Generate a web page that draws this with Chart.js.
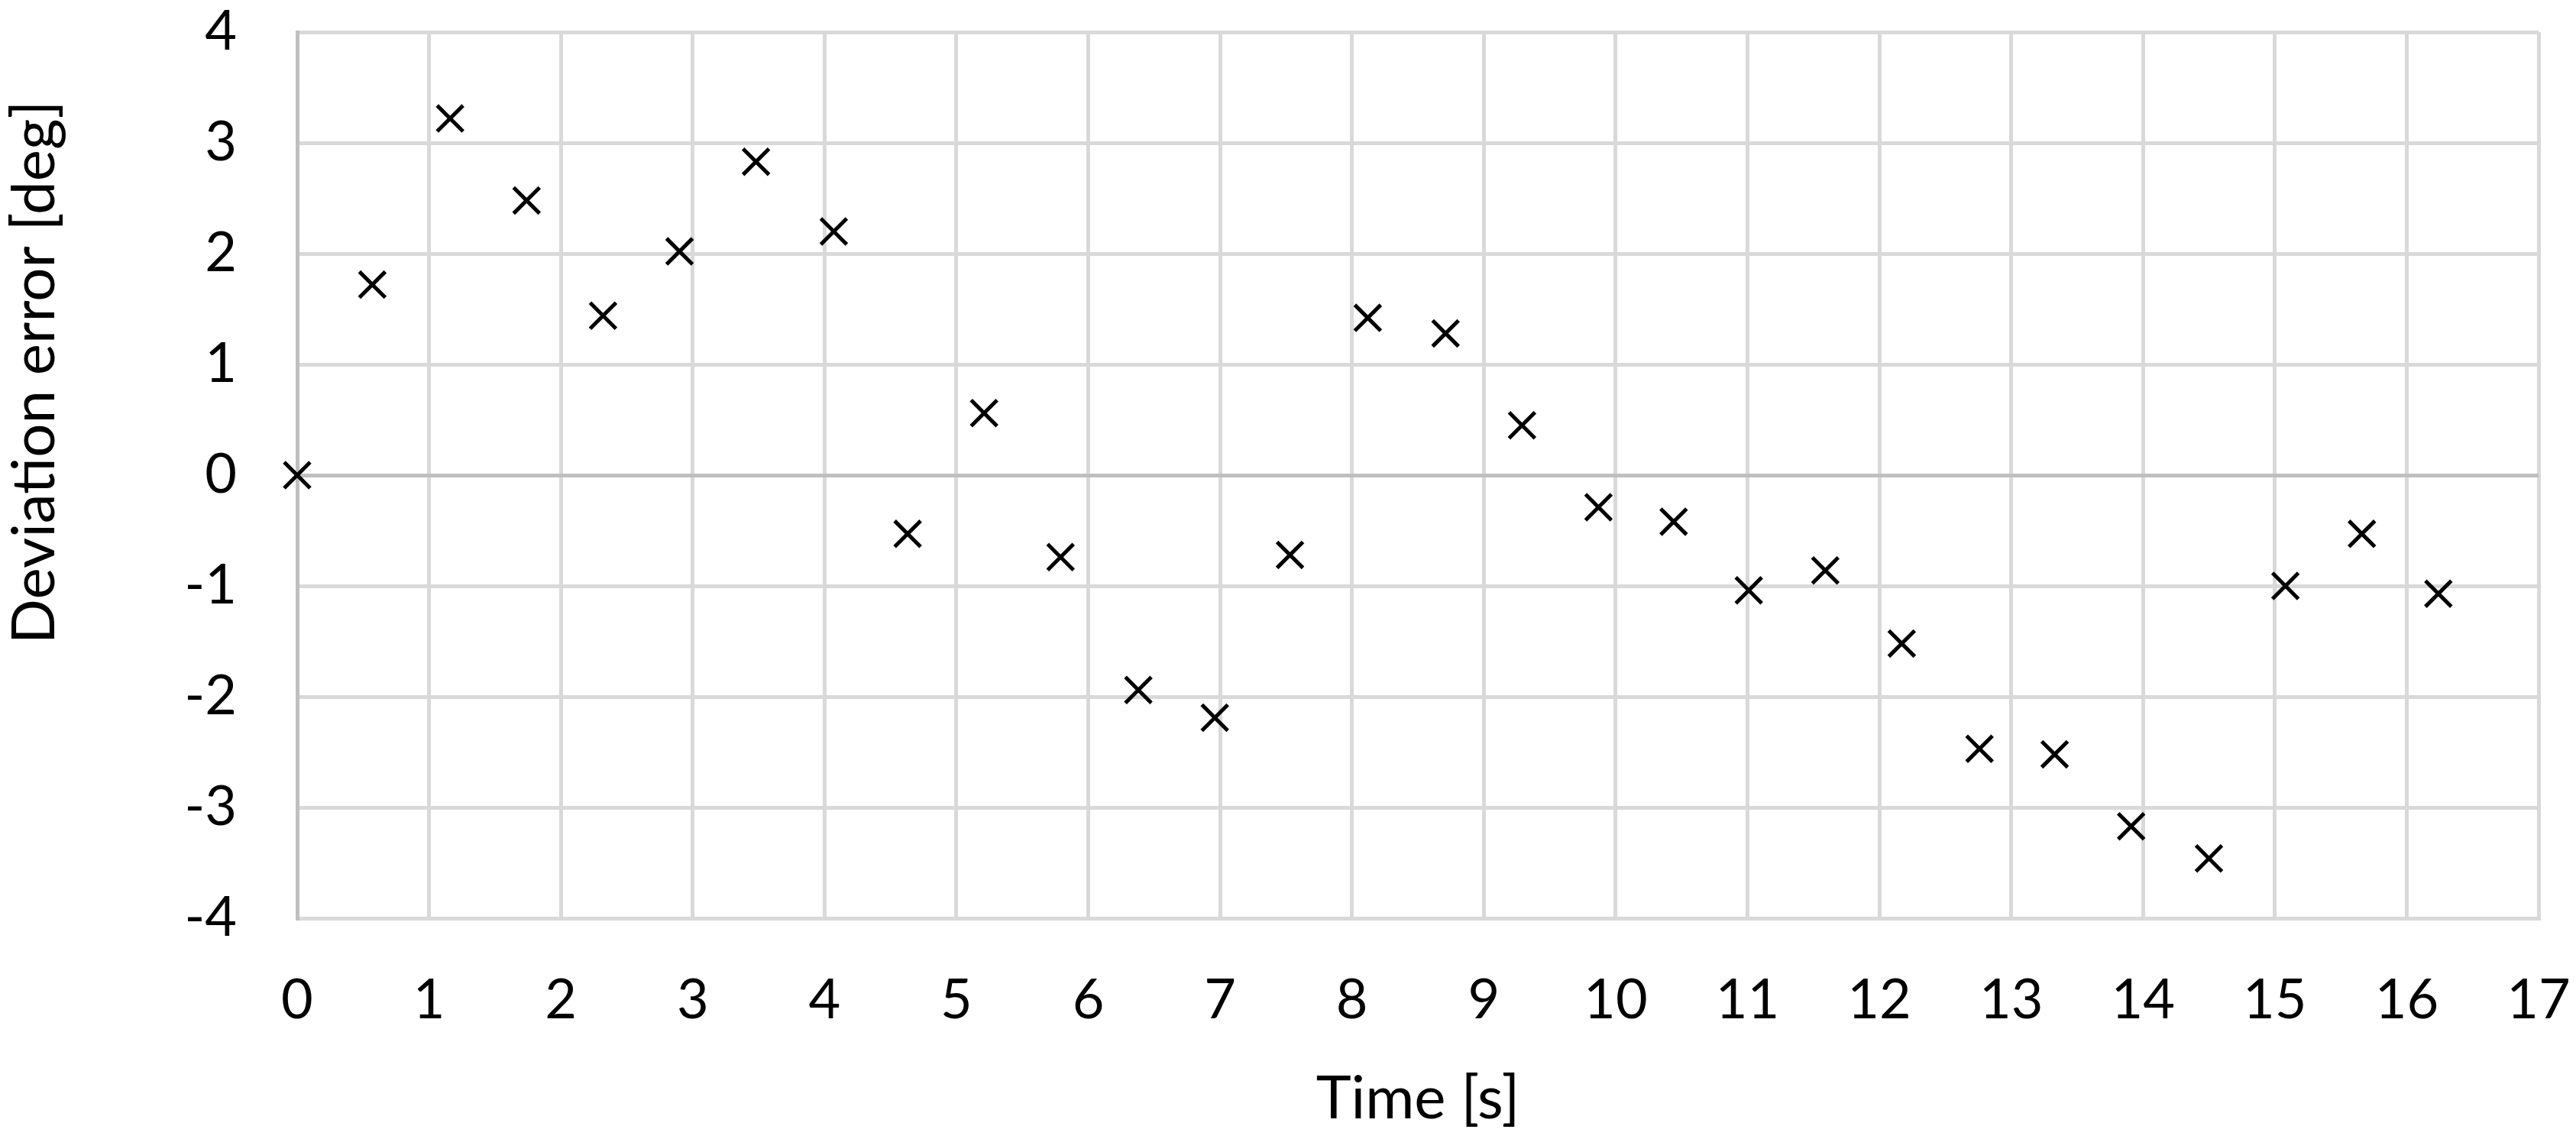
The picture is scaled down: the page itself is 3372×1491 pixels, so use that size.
<!DOCTYPE html>
<html>
<head>
<meta charset="utf-8">
<title>Deviation error</title>
<script src="https://cdn.jsdelivr.net/npm/chart.js"></script>
<style>
    html, body { margin: 0; padding: 0; background: #fff; }
    #grafico { width: 3372px; height: 1491px; }
</style>
</head>
<body>
<div id="grafico"></div>
<script>
// valores
var tempos = [0, 0.57, 1.16, 1.74, 2.32, 2.9, 3.48, 4.07, 4.63, 5.21, 5.79, 6.38, 6.96, 7.53, 8.12,
    8.71, 9.29, 9.87, 10.44, 11.01, 11.59, 12.17, 12.76, 13.33, 13.91, 14.5, 15.08, 15.66, 16.24];
var desvios = [0, 1.72, 3.22, 2.48, 1.44, 2.02, 2.83, 2.2, -0.53, 0.56, -0.74, -1.94, -2.19, -0.72, 1.42,
    1.28, 0.45, -0.29, -0.42, -1.04, -0.86, -1.52, -2.47, -2.52, -3.17, -3.46, -1.0, -0.53, -1.07];
var limitesX = [0, 17];
var limitesY = [-4, 4];
var tituloX = 'Time [s]';
var tituloY = 'Deviation error [deg]';

var fonteTicks = { family: 'Lato', size: 72 };
var fonteTitulo = { family: 'Lato', size: 78 };
var corGrade = '#d9d9d9';
var corEixo = '#bfbfbf';

function corLinha(ctx) {
    return ctx.tick && ctx.tick.value === 0 ? corEixo : corGrade;
}

// titulo do eixo Y fica um pouco acima do centro, como no original
var tituloEixoY = {
    id: 'tituloEixoY',
    afterDraw: function(chart) {
        var ctx = chart.ctx;
        var area = chart.chartArea;
        ctx.save();
        ctx.translate(46, area.top + area.height * 0.384);
        ctx.rotate(-Math.PI / 2);
        ctx.font = fonteTitulo.size + 'px ' + fonteTitulo.family;
        ctx.fillStyle = '#000';
        ctx.textAlign = 'center';
        ctx.textBaseline = 'middle';
        ctx.fillText(tituloY, 0, 0);
        ctx.restore();
    }
};

function MontaGrafico() {
    var pontos = [];
    for (var i in tempos) {
        pontos.push({ x: tempos[i], y: desvios[i] });
    }

    document.getElementById('grafico').innerHTML = '<canvas id="graficoDesvio" width="3372" height="1491"></canvas>';
    var campo = document.getElementById('graficoDesvio');

    new Chart(campo, {
        type: 'scatter',
        data: {
            datasets: [
                {
                    label: tituloY,
                    data: pontos,
                    pointStyle: 'crossRot',
                    pointRadius: 24,
                    pointBorderWidth: 5,
                    borderColor: '#000',
                    backgroundColor: '#000',
                    showLine: false,
                    clip: false
                }
            ]
        },
        options: {
            responsive: false,
            animation: false,
            devicePixelRatio: 1,
            layout: { padding: { top: 42, right: 49, bottom: 0, left: 0 } },
            plugins: {
                legend: { display: false },
                tooltip: { enabled: false }
            },
            scales: {
                x: {
                    type: 'linear',
                    min: limitesX[0],
                    max: limitesX[1],
                    ticks: { stepSize: 1, color: '#000', font: fonteTicks, padding: 65, maxRotation: 0 },
                    grid: { drawTicks: false, lineWidth: 5, color: corLinha },
                    border: { display: true, color: corGrade, width: 5 },
                    title: { display: true, text: tituloX, color: '#000', font: fonteTitulo, padding: { top: 0, bottom: 5 } },
                    afterFit: function(escala) {
                        escala.height = 289;
                        escala.paddingLeft = 0;
                        escala.paddingRight = 0;
                    }
                },
                y: {
                    type: 'linear',
                    min: limitesY[0],
                    max: limitesY[1],
                    ticks: { stepSize: 1, color: '#000', font: fonteTicks, padding: 79 },
                    grid: { drawTicks: false, lineWidth: 5, color: corLinha },
                    border: { display: true, color: corEixo, width: 5 },
                    title: { display: false },
                    afterFit: function(escala) {
                        escala.width = 389;
                        escala.paddingTop = 0;
                        escala.paddingBottom = 0;
                    }
                }
            }
        },
        plugins: [tituloEixoY]
    });
}

MontaGrafico();
</script>
</body>
</html>
